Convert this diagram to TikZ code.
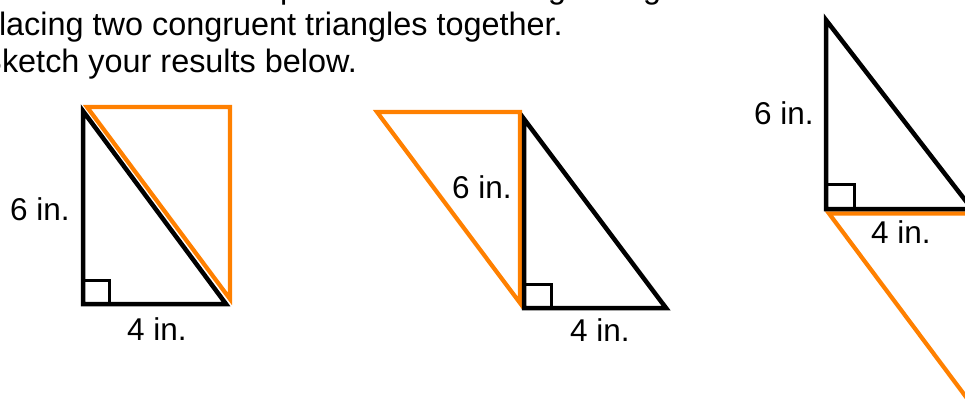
\documentclass[tikz,border=0pt]{standalone}
\usepackage{fontspec}
\setmainfont{Liberation Sans}
\definecolor{tor}{RGB}{255,128,0}
\begin{document}
\begin{tikzpicture}[x=1pt,y=-1pt,
  blk/.style={draw=black,line width=4.5pt,line join=miter},
  org/.style={draw=tor,line width=4.2pt,line join=miter},
  sqmark/.style={draw=black,line width=3pt},
  lbl/.style={inner sep=0pt,font=\fontsize{31.5}{37}\selectfont},
  head/.style={inner sep=0pt,font=\fontsize{32.4}{37}\selectfont}]
\useasboundingbox (0,0) rectangle (965,407);
\clip (0,0) rectangle (965,407);

% header text (partly cut by the picture edge)
\node[head,anchor=base west] (dp) at (280,-2) {p};
\node[head,anchor=base west] (dg1) at (548,-2) {g};
\node[head,anchor=base west] (dg2) at (643,-2) {g};
\node[head,anchor=base east] (h2) at (563,35) {placing two congruent triangles together.};
\node[head,anchor=base east] (h3) at (357,72) {Sketch your results below.};

% ---- triangle 1 ----
\coordinate (A1) at (83,111);
\coordinate (B1) at (83,304);
\coordinate (C1) at (226,304);
\coordinate (S1) at (109,280);
\coordinate (D1) at (87,107);
\coordinate (E1) at (230,107);
\coordinate (F1) at (230,299);
\draw[blk] (A1) -- (B1) -- (C1) -- cycle;
\draw[sqmark] (B1) rectangle (S1);
\draw[org] (D1) -- (E1) -- (F1) -- cycle;
\node[lbl,anchor=base] (l1a) at (40,220) {6 in.};
\node[lbl,anchor=base] (l1b) at (157,340) {4 in.};

% ---- triangle 2 ----
\coordinate (D2) at (377,112);
\coordinate (E2) at (520,112);
\coordinate (F2) at (520,303);
\coordinate (A2) at (524,119);
\coordinate (B2) at (524,308);
\coordinate (C2) at (666,308);
\coordinate (S2) at (551,284);
\draw[org] (D2) -- (E2) -- (F2) -- cycle;
\draw[blk] (A2) -- (B2) -- (C2) -- cycle;
\draw[sqmark] (B2) rectangle (S2);
\node[lbl,anchor=base] (l2a) at (482,198) {6 in.};
\node[lbl,anchor=base] (l2b) at (600,341) {4 in.};

% ---- triangle 3 (cut by the right edge) ----
\coordinate (A3) at (826,20);
\coordinate (B3) at (826,209);
\coordinate (C3) at (972,209);
\coordinate (S3) at (854,184);
\coordinate (D3) at (829,213.5);
\coordinate (E3) at (975,213.5);
\coordinate (F3) at (975,409);
\draw[org] (D3) -- (E3) -- (F3) -- cycle;
\draw[blk] (A3) -- (B3) -- (C3) -- cycle;
\draw[sqmark] (B3) rectangle (S3);
\node[lbl,anchor=base] (l3a) at (784,124) {6 in.};
\node[lbl,anchor=base] (l3b) at (901,243) {4 in.};
\end{tikzpicture}
\end{document}
